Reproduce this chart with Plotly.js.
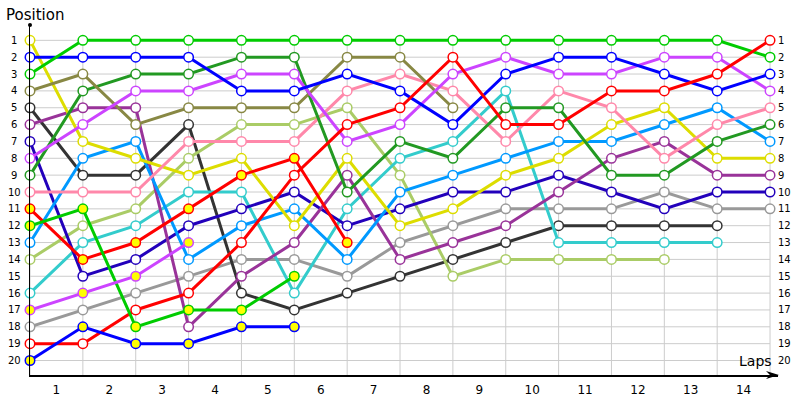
<!DOCTYPE html>
<html><head><meta charset="utf-8">
<script src="https://cdn.plot.ly/plotly-3.0.1.min.js"></script>
<style>html,body{margin:0;padding:0;background:#fff}#chart{width:800px;height:400px}</style>
</head><body><div id="chart"></div>
<script>
// Lap labels (bottom), grid positions, and lap points (0 = start grid)
const laps = [1,2,3,4,5,6,7,8,9,10,11,12,13,14];
const positions = [1,2,3,4,5,6,7,8,9,10,11,12,13,14,15,16,17,18,19,20];
const lapPoints = [0,1,2,3,4,5,6,7,8,9,10,11,12,13,14];

// Position per lap point for each driver
const yellowPos    = [1,7,8,9,8,12,8,12,11,9,8,6,5,8,8];
const bluePos      = [2,2,2,2,4,4,3,4,6,3,2,2,3,4,3];
const greenPos     = [3,1,1,1,1,1,1,1,1,1,1,1,1,1,2];
const olivePos     = [4,3,6,5,5,5,2,2,5];
const blackPos     = [5,9,9,6,16,17,16,15,14,13,12,12,12,12];
const purplePos    = [6,5,5,18,15,13,9,14,13,12,10,8,7,9,9];
const navyPos      = [7,15,14,12,11,10,12,11,10,10,9,10,11,10,10];
const violetPos    = [8,6,4,4,3,3,7,6,3,2,3,3,2,2,4];
const darkGreenPos = [9,4,3,3,2,2,10,7,8,5,5,9,9,7,6];
const pinkPos      = [10,10,10,7,7,7,4,3,4,7,4,5,8,6,5];
const red2Pos      = [11,14,13,11,9,8,13];
const green2Pos    = [12,11,18,17,17,15];
const lightBluePos = [13,8,7,14,12,11,14,10,9,8,7,7,6,5,7];
const lightGreenPos= [14,12,11,8,6,6,5,9,15,14,14,14,14];
const cyanPos      = [16,13,12,10,10,16,11,8,7,4,13,13,13,13];
const violet2Pos   = [17,16,15,13];
const grayPos      = [18,17,16,15,14,14,15,13,12,11,11,11,10,11,11];
const redPos       = [19,19,17,16,13,9,6,5,2,6,6,4,4,3,1];
const blue2Pos     = [20,18,19,19,18,18];

const series = [
  {y: grayPos,       color: '#999999', filled: false},
  {y: blackPos,      color: '#333333', filled: false},
  {y: lightGreenPos, color: '#aacc66', filled: false},
  {y: cyanPos,       color: '#33cccc', filled: false},
  {y: navyPos,       color: '#2200bb', filled: false},
  {y: purplePos,     color: '#993399', filled: false},
  {y: lightBluePos,  color: '#0099ff', filled: false},
  {y: yellowPos,     color: '#dddd00', filled: false},
  {y: pinkPos,       color: '#ff88aa', filled: false},
  {y: darkGreenPos,  color: '#229922', filled: false},
  {y: olivePos,      color: '#888844', filled: false},
  {y: violetPos,     color: '#cc44ff', filled: false},
  {y: bluePos,       color: '#0000ff', filled: false},
  {y: greenPos,      color: '#00cc00', filled: false},
  {y: redPos,        color: '#ff0000', filled: false},
  {y: red2Pos,       color: '#ff0000', filled: true},
  {y: green2Pos,     color: '#00cc00', filled: true},
  {y: violet2Pos,    color: '#cc44ff', filled: true},
  {y: blue2Pos,      color: '#0000ff', filled: true}
];

const traces = series.map(s => ({
  type: 'scatter', mode: 'lines+markers',
  x: lapPoints.slice(0, s.y.length), y: s.y,
  line: {color: s.color, width: 3},
  marker: {symbol: 'circle', size: 9.5, color: s.filled ? '#ffff00' : '#ffffff',
           line: {color: s.color, width: 1.5}},
  cliponaxis: false, hoverinfo: 'skip'
}));

const yTop = 0.09, yBottom = 20.86;
const font = 'DejaVu Sans, Verdana, sans-serif';

const shapes = [];
positions.forEach(p => shapes.push({type: 'line', layer: 'below', xref: 'x', yref: 'y',
  x0: lapPoints[0], x1: lapPoints[lapPoints.length-1], y0: p, y1: p,
  line: {color: '#cccccc', width: 1}}));
lapPoints.forEach(l => shapes.push({type: 'line', layer: 'below', xref: 'x', yref: 'y',
  x0: l, x1: l, y0: 0.74, y1: yBottom, line: {color: '#cccccc', width: 1}}));
// top dot of y axis
shapes.push({type: 'circle', xref: 'paper', yref: 'paper', xsizemode: 'pixel', ysizemode: 'pixel',
  xanchor: 0, yanchor: 1, x0: -2, x1: 2, y0: -2, y1: 2, fillcolor: '#000', line: {width: 0}});
// arrow head of x axis
shapes.push({type: 'path', xref: 'paper', yref: 'paper', xsizemode: 'pixel', ysizemode: 'pixel',
  xanchor: 1, yanchor: 0, path: 'M 1,0 L -12,4 L -8,0 L -12,-4 Z', fillcolor: '#000', line: {width: 0}});

const annotations = [];
positions.forEach(p => {
  annotations.push({xref: 'x', yref: 'y', x: 0, y: p, xshift: -16, text: String(p), showarrow: false,
    xanchor: 'center', yanchor: 'middle', font: {family: font, size: 10, color: '#000'}});
  annotations.push({xref: 'x', yref: 'y', x: 14, y: p, xshift: 6, text: String(p), showarrow: false,
    xanchor: 'left', yanchor: 'middle', font: {family: font, size: 10, color: '#000'}});
});
annotations.push({xref: 'paper', yref: 'paper', x: -26/748, y: 1 + 10/350, text: 'Position', showarrow: false,
  xanchor: 'left', yanchor: 'middle', font: {family: font, size: 15, color: '#000'}});
annotations.push({xref: 'paper', yref: 'paper', x: 1 - 4/748, y: 4/350, text: 'Laps', showarrow: false,
  xanchor: 'right', yanchor: 'bottom', font: {family: font, size: 14, color: '#000'}});

const layout = {
  width: 800, height: 400,
  margin: {l: 30, r: 22, t: 25, b: 25},
  paper_bgcolor: '#ffffff', plot_bgcolor: '#ffffff',
  showlegend: false,
  xaxis: {range: [0, 748/52.86], tickvals: laps.map(l => l - 0.5), ticktext: laps.map(String),
    showgrid: false, zeroline: false, showline: true, linecolor: '#000', linewidth: 1.5,
    ticks: '', ticklabelstandoff: 3, tickfont: {family: font, size: 12, color: '#000'}, fixedrange: true},
  yaxis: {range: [yBottom, yTop], showticklabels: false, showgrid: false, zeroline: false,
    showline: true, linecolor: '#000', linewidth: 1.5, ticks: '', tickvals: [], fixedrange: true},
  shapes: shapes,
  annotations: annotations
};

Plotly.newPlot('chart', traces, layout, {staticPlot: true, displayModeBar: false});
</script>
</body></html>
